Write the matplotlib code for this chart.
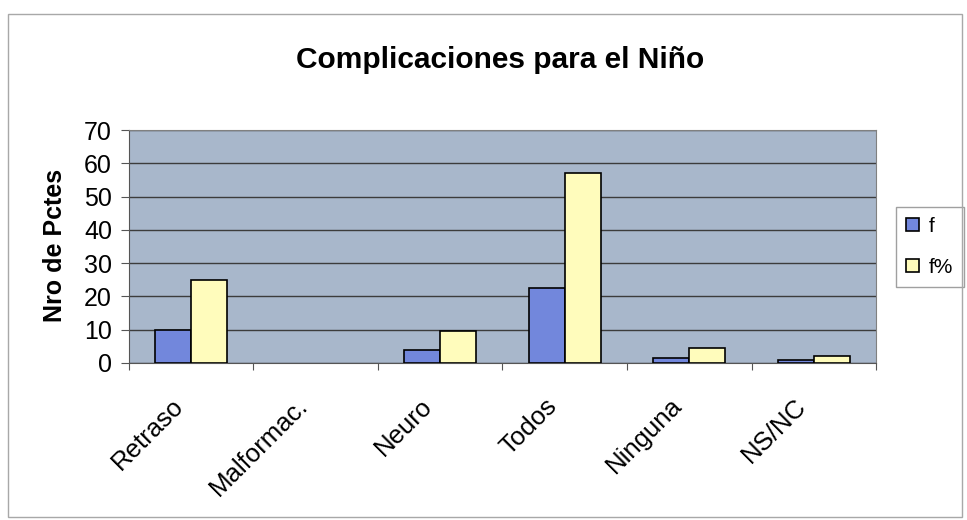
import numpy as np
import matplotlib.pyplot as plt
import matplotlib.transforms as mtransforms
from matplotlib.patches import Rectangle

plt.rcParams['font.family'] = ['Liberation Sans', 'DejaVu Sans']

categorias = ['Retraso', 'Malformac.', 'Neuro', 'Todos', 'Ninguna', 'NS/NC']
f = [10, 0, 4, 22.5, 1.5, 0.8]
f_pct = [25, 0, 9.5, 57, 4.5, 2]

fig = plt.figure(figsize=(9.67, 5.2), dpi=100)
ax = fig.add_axes([0.133, 0.302, 0.773, 0.448])

# borde exterior del grafico
fig.patches.append(Rectangle((0.0083, 0.005), 0.9866, 0.969, transform=fig.transFigure,
                             fill=False, edgecolor='#a8a8a8', linewidth=1))

x = np.arange(len(categorias))
w = 0.29
b1 = ax.bar(x - w / 2, f, w, color='#7287dc', edgecolor='black', linewidth=1.2, label='f', zorder=3)
b2 = ax.bar(x + w / 2, f_pct, w, color='#fffcbc', edgecolor='black', linewidth=1.2, label='f%', zorder=3)

# barras de valor 0 no se ven en el original
for bar in list(b1) + list(b2):
    if bar.get_height() == 0:
        bar.set_linewidth(0)

ax.set_facecolor('#a8b7cb')
ax.set_xlim(-0.5, len(categorias) - 0.5)
ax.set_ylim(0, 70)
ax.set_yticks(range(0, 71, 10))
ax.yaxis.grid(True, color='#3c3c3c', linewidth=1, zorder=1)
ax.set_axisbelow(True)

ax.set_xticks(np.arange(len(categorias) + 1) - 0.5)
ax.set_xticklabels([])
ax.set_xticks(x, minor=True)
ax.set_xticklabels(categorias, minor=True, rotation=45, ha='right', va='top',
                   rotation_mode='anchor', fontsize=18.5)
ax.tick_params(axis='x', which='minor', length=0, pad=22)
ax.tick_params(axis='x', which='major', length=5, direction='out', color='#555555')
ax.tick_params(axis='y', labelsize=18, length=6, color='#555555', pad=6)

# desplazar etiquetas un poco a la izquierda
offset = mtransforms.ScaledTranslation(-0.20, 0, fig.dpi_scale_trans)
for lbl in ax.xaxis.get_minorticklabels():
    lbl.set_transform(lbl.get_transform() + offset)

for s in ['left', 'bottom']:
    ax.spines[s].set_color('#555555')
for s in ['top', 'right']:
    ax.spines[s].set_color('#808080')

ax.set_ylabel('Nro de Pctes', fontsize=18, fontweight='bold')
ax.yaxis.set_label_coords(-0.083, 0.506)
fig.text(0.517, 0.885, 'Complicaciones para el Niño', ha='center', va='center',
         fontsize=21.5, fontweight='bold')

leg = ax.legend(loc='center left', bbox_to_anchor=(1.026, 0.498), fontsize=15,
                frameon=True, fancybox=False, edgecolor='#888888',
                handlelength=0.63, handleheight=0.63, handletextpad=0.48,
                borderpad=0.5, labelspacing=1.05, borderaxespad=0)

plt.savefig('out.png', dpi=100)
